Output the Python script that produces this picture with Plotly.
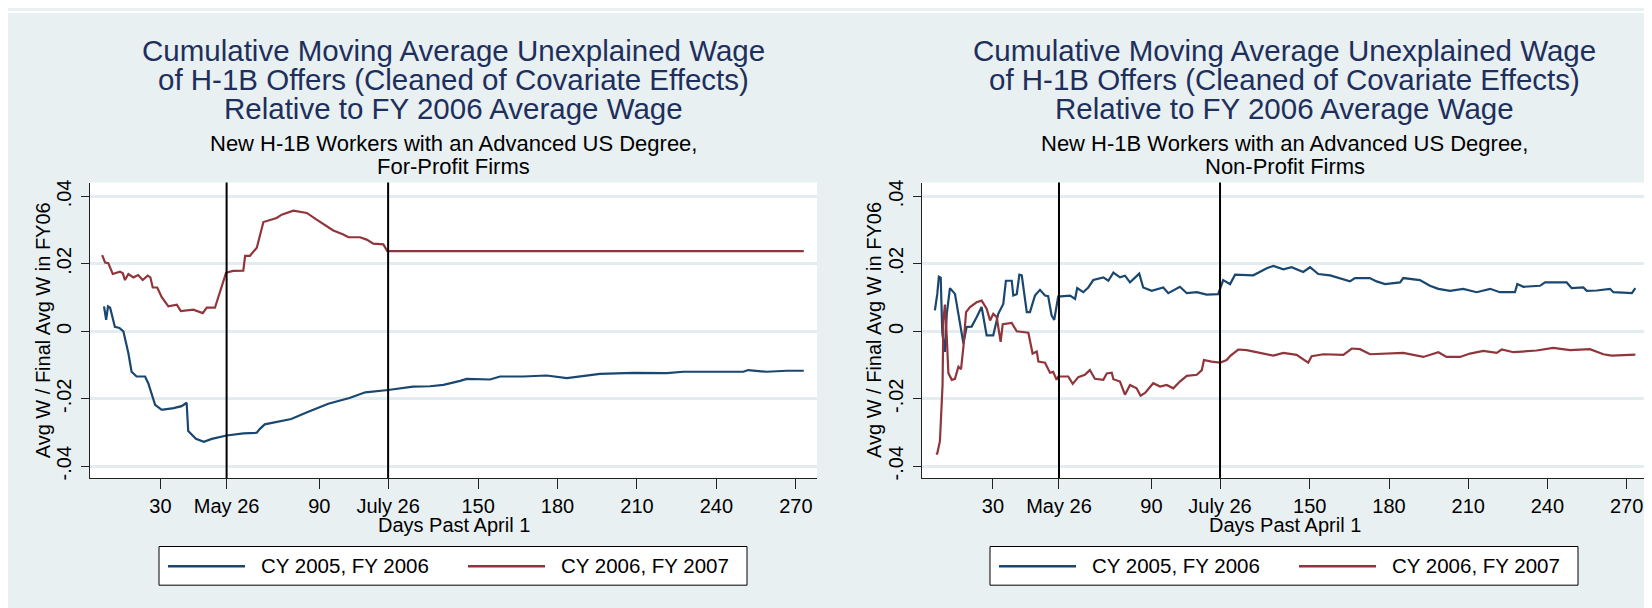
import plotly.graph_objects as go

# ---------------- data ----------------
x_tick_vals = [30, 55, 90, 116, 150, 180, 210, 240, 270]
x_tick_text = ["30", "May 26", "90", "July 26", "150", "180", "210", "240", "270"]
y_tick_vals = [-0.04, -0.02, 0, 0.02, 0.04]
y_tick_text = ["-.04", "-.02", "0", ".02", ".04"]
event_days = [55, 116]

series_names = ["CY 2005, FY 2006", "CY 2006, FY 2007"]

fp_blue_day = [8.7, 9.5, 10.2, 11, 12.8, 14.5, 16, 17.9, 19.1, 21, 24.2, 25.4, 28, 30.4, 31,
               35, 38, 39.9, 40.5, 43.4, 46.4, 49.4, 55, 61.4, 66.4, 67.5, 69.4, 74, 79.4,
               85.4, 93.4, 101.4, 107.4, 116, 120.5, 125.4, 131.8, 136.9, 143.2, 145.7,
               154.5, 158.3, 167, 175.9, 183.5, 188.5, 196, 208.6, 221.3, 227.5, 237.6,
               250.2, 252, 259, 266.6, 273]
fp_blue_val = [0.0074, 0.0034, 0.0074, 0.0070, 0.0013, 0.0010, 0.0, -0.0065, -0.0120, -0.0134,
               -0.0134, -0.0154, -0.0218, -0.0232, -0.0232, -0.0228, -0.0222, -0.0212, -0.0296,
               -0.0319, -0.0328, -0.0319, -0.0309, -0.0303, -0.0301, -0.0290, -0.0276, -0.0268,
               -0.0260, -0.0240, -0.0215, -0.0198, -0.0181, -0.0174, -0.0169, -0.0164, -0.0163,
               -0.0159, -0.0147, -0.0141, -0.0143, -0.0134, -0.0134, -0.0131, -0.0139, -0.0134,
               -0.0126, -0.0123, -0.0124, -0.0120, -0.0120, -0.0120, -0.0115, -0.0120, -0.0117,
               -0.0117]

fp_red_day = [8.0, 9.1, 10.3, 11.2, 12, 14.7, 15.8, 16.6, 17.9, 19.8, 21.6, 23.3, 25.2, 26.2,
              27.1, 28.8, 30.5, 33, 36.2, 37.7, 42.4, 46, 47.5, 50.6, 52.5, 54.8, 57.5, 61.3,
              62, 63.8, 66.4, 68.9, 73.9, 75.8, 80.2, 85.3, 89, 95.3, 99.1, 101, 105.4, 107.9,
              110.4, 114.2, 115.7, 273]
fp_red_val = [0.0226, 0.0204, 0.0202, 0.0185, 0.0170, 0.0177, 0.0172, 0.0152, 0.0170, 0.0160,
              0.0167, 0.0152, 0.0165, 0.0160, 0.0130, 0.0130, 0.0101, 0.0074, 0.0079, 0.0060,
              0.0064, 0.0054, 0.0070, 0.0070, 0.0120, 0.0174, 0.0179, 0.0180, 0.0224, 0.0224,
              0.0248, 0.0324, 0.0336, 0.0346, 0.0358, 0.0351, 0.0331, 0.0299, 0.0287, 0.0279,
              0.0279, 0.0272, 0.0260, 0.0258, 0.0238, 0.0238]

np_blue_day = [8.0, 8.9, 9.5, 10.2, 10.8, 11.8, 12.5, 13.7, 15.6, 16.9, 18.8, 20, 21.9, 23.8,
               25.7, 27.6, 30.1, 32, 33.9, 34.9, 37.1, 37.7, 39, 40, 40.9, 42.8, 44, 45.9,
               47.8, 49.7, 50.9, 52.2, 53.2, 54.7, 59.2, 61.1, 61.9, 64.2, 66.1, 68, 71.8,
               73.7, 75.6, 78.1, 80, 81.9, 85.4, 86.9, 90.1, 94.5, 96.4, 100.8, 103.4, 107.2,
               110.9, 115.3, 117.2, 119.8, 121.7, 128.6, 133.7, 136.2, 140, 143.1, 147.5,
               150.1, 153.2, 157.7, 161.4, 165.2, 167.1, 172.7, 175.3, 178.5, 184.2, 185.4,
               191.7, 195.5, 198.7, 203.1, 208.1, 213.2, 218.3, 222, 227.7, 228.6, 230.9,
               237.2, 239.1, 247.3, 249.2, 253.6, 254.9, 258.7, 263.7, 265, 272, 273.3]
np_blue_val = [0.0062, 0.0111, 0.0162, 0.0159, -0.0005, -0.0061, 0.0052, 0.0128, 0.0111,
               0.0047, -0.0036, 0.0013, 0.0014, 0.0042, 0.0072, -0.0012, -0.0012, 0.0052,
               0.0081, 0.0150, 0.0150, 0.0106, 0.0110, 0.0168, 0.0166, 0.0057, 0.0057, 0.0106,
               0.0123, 0.0106, 0.0104, 0.0047, 0.0034, 0.0103, 0.0106, 0.0096, 0.0128, 0.0116,
               0.0130, 0.0152, 0.0160, 0.0150, 0.0174, 0.0160, 0.0165, 0.0145, 0.0171, 0.0130,
               0.0120, 0.0130, 0.0113, 0.0132, 0.0113, 0.0116, 0.0109, 0.0110, 0.0152, 0.0140,
               0.0168, 0.0166, 0.0187, 0.0194, 0.0184, 0.0190, 0.0176, 0.0190, 0.0170, 0.0166,
               0.0158, 0.0148, 0.0158, 0.0158, 0.0148, 0.0140, 0.0145, 0.0158, 0.0152, 0.0135,
               0.0126, 0.0120, 0.0126, 0.0116, 0.0126, 0.0116, 0.0116, 0.0140, 0.0132, 0.0135,
               0.0145, 0.0145, 0.0128, 0.0130, 0.0120, 0.0121, 0.0126, 0.0116, 0.0113, 0.0128]

np_red_day = [8.5, 8.9, 9.9, 10.5, 10.9, 11.2, 11.8, 12.5, 13.1, 14.4, 15.6, 16.9, 17.9, 18.8,
              19.8, 21.3, 23.8, 25.7, 27.6, 28.9, 30.1, 31.4, 32.9, 33.7, 37.1, 39, 41.5,
              43.4, 45, 46.6, 47.2, 49.7, 51.6, 52.8, 54.1, 54.7, 58.5, 60.2, 62.3, 64.8,
              66.7, 68.6, 71.8, 73.1, 75, 75.6, 78.1, 80, 81.9, 84.4, 85.9, 87.6, 90.7, 93.3,
              95.8, 98.3, 100.8, 103.4, 107.2, 109.1, 109.9, 112.8, 116, 118.5, 120, 122.9,
              126.1, 132.4, 136.2, 140, 145, 149.4, 150.7, 155.1, 162.7, 165.9, 169, 172.8,
              179.1, 185.4, 193, 198.7, 201.8, 206.9, 210.7, 215.7, 220.8, 222.7, 227.1,
              235.9, 242.2, 248.6, 256.1, 261.2, 264.3, 273.3]
np_red_val = [-0.0365, -0.0362, -0.0326, -0.0242, -0.0159, 0.0032, 0.0079, -0.0017, -0.0124,
              -0.0144, -0.0141, -0.0105, -0.0112, -0.0046, 0.0057, 0.0072, 0.0086, 0.0091,
              0.0067, 0.0032, 0.0052, 0.0042, -0.0031, 0.0021, 0.0025, 0.0, -0.0002, -0.0004,
              -0.0066, -0.0060, -0.0090, -0.0093, -0.0123, -0.0120, -0.0144, -0.0134, -0.0134,
              -0.0156, -0.0136, -0.0129, -0.0115, -0.0141, -0.0144, -0.0125, -0.0123, -0.0142,
              -0.0149, -0.0188, -0.0159, -0.0169, -0.0191, -0.0183, -0.0154, -0.0164, -0.0159,
              -0.0169, -0.0149, -0.0132, -0.0129, -0.0115, -0.0085, -0.0090, -0.0093, -0.0085,
              -0.0072, -0.0054, -0.0056, -0.0066, -0.0072, -0.0064, -0.0070, -0.0093, -0.0074,
              -0.0068, -0.0070, -0.0051, -0.0053, -0.0068, -0.0066, -0.0064, -0.0076, -0.0062,
              -0.0076, -0.0076, -0.0066, -0.0058, -0.0064, -0.0054, -0.0062, -0.0057, -0.0049,
              -0.0056, -0.0053, -0.0068, -0.0072, -0.0069]

titles = ["Cumulative Moving Average Unexplained Wage",
          "of H-1B Offers (Cleaned of Covariate Effects)",
          "Relative to FY 2006 Average Wage"]
subtitles_left = ["New H-1B Workers with an Advanced US Degree,", "For-Profit Firms"]
subtitles_right = ["New H-1B Workers with an Advanced US Degree,", "Non-Profit Firms"]
y_title = "Avg W / Final Avg W in FY06"
x_title = "Days Past April 1"

# ---------------- style ----------------
# The page body has an 8px margin, so the figure is 8px smaller than the window
OFF = 8
W, H = 1652 - OFF, 608 - OFF
FONT = "Liberation Sans, Arial, sans-serif"
BG = "#e8f0f2"
GRID = "#e3ecf0"
BLUE = "#1a476f"
RED = "#90353b"
TITLE_C = "#1e2f5c"


def px(x):
    """page x pixel -> paper fraction"""
    return (x - OFF) / W


def py(y):
    """page y pixel -> paper fraction"""
    return 1 - (y - OFF) / H


fig = go.Figure()

panels = [
    dict(xa="x", ya="y", left=90, right=817, xr=[3.4, 278.0],
         blue=(fp_blue_day, fp_blue_val), red=(fp_red_day, fp_red_val),
         subs=subtitles_left, leg_left=159),
    dict(xa="x2", ya="y2", left=921.7, right=1648, xr=[3.0, 278.1],
         blue=(np_blue_day, np_blue_val), red=(np_red_day, np_red_val),
         subs=subtitles_right, leg_left=990),
]
TOP, BOT = 181, 479
yr = [(331 - BOT) / 3400, (331 - TOP) / 3400]

shapes = [
    dict(type="rect", xref="paper", yref="paper", x0=0, x1=1, y0=py(10), y1=1,
         fillcolor="white", line=dict(width=0), layer="above"),
]
annotations = []

for i, p in enumerate(panels):
    for (d, v), col, nm in [(p["blue"], BLUE, series_names[0]), (p["red"], RED, series_names[1])]:
        fig.add_trace(go.Scatter(x=d, y=v, mode="lines", name=nm, showlegend=False,
                                 line=dict(color=col, width=2.2), xaxis=p["xa"], yaxis=p["ya"]))
    sfx = "" if i == 0 else "2"
    fig.update_layout(**{
        "xaxis" + sfx: dict(domain=[px(p["left"]), px(p["right"])], range=p["xr"],
                             tickmode="array", tickvals=x_tick_vals, ticktext=x_tick_text,
                             ticks="outside", ticklen=10, tickwidth=1, tickcolor="#222",
                             showline=True, linecolor="#222", linewidth=1.2,
                             showgrid=False, zeroline=False, anchor="y" + sfx,
                             tickfont=dict(family=FONT, size=20, color="black"),
                             ticklabelstandoff=0),
        "yaxis" + sfx: dict(domain=[py(BOT), py(TOP)], range=yr,
                             tickmode="array", tickvals=y_tick_vals, ticktext=y_tick_text,
                             ticks="outside", ticklen=8, tickwidth=1, tickcolor="#222",
                             showline=True, linecolor="#222", linewidth=1.2,
                             showgrid=True, gridcolor=GRID, gridwidth=2.5, zeroline=False,
                             tickangle=-90, anchor="x" + sfx,
                             tickfont=dict(family=FONT, size=20, color="black"),
                             ticklabelstandoff=2),
    })
    for d in event_days:
        shapes.append(dict(type="line", xref=p["xa"], yref=p["ya"] + " domain", x0=d, x1=d,
                           y0=0, y1=1, line=dict(color="black", width=2)))
    cx = (p["left"] + p["right"]) / 2
    for t, yy in zip(titles, [48, 77.5, 106.5]):
        annotations.append(dict(text=t, x=px(cx), y=py(yy), xref="paper", yref="paper",
                                xanchor="center", yanchor="middle", showarrow=False,
                                font=dict(family=FONT, size=29.5, color=TITLE_C)))
    for t, yy in zip(p["subs"], [141.5, 164.5]):
        annotations.append(dict(text=t, x=px(cx), y=py(yy), xref="paper", yref="paper",
                                xanchor="center", yanchor="middle", showarrow=False,
                                font=dict(family=FONT, size=22, color="black")))
    annotations.append(dict(text=x_title, x=px(cx), y=py(526), xref="paper", yref="paper",
                            xanchor="center", yanchor="middle", showarrow=False,
                            font=dict(family=FONT, size=20, color="black")))
    annotations.append(dict(text=y_title, x=px(p["left"] - 47), y=py((TOP + BOT) / 2),
                            xref="paper", yref="paper", textangle=-90,
                            xanchor="center", yanchor="middle", showarrow=False,
                            font=dict(family=FONT, size=20, color="black")))
    L = p["leg_left"]
    shapes.append(dict(type="rect", xref="paper", yref="paper", x0=px(L), x1=px(L + 588),
                       y0=py(587), y1=py(548), fillcolor="white",
                       line=dict(color="black", width=1)))
    for k, (col, nm) in enumerate([(BLUE, series_names[0]), (RED, series_names[1])]):
        off = 9 + 300 * k
        shapes.append(dict(type="line", xref="paper", yref="paper", x0=px(L + off),
                           x1=px(L + off + 77), y0=py(568), y1=py(568),
                           line=dict(color=col, width=2.5)))
        annotations.append(dict(text=nm, x=px(L + off + 91), y=py(567.5), xref="paper",
                                yref="paper", xanchor="left", yanchor="middle",
                                showarrow=False,
                                font=dict(family=FONT, size=20.5, color="black")))

fig.update_layout(width=W, height=H, margin=dict(l=0, r=0, t=0, b=0),
                  paper_bgcolor=BG, plot_bgcolor="white", showlegend=False,
                  shapes=shapes, annotations=annotations)

fig.write_html("out.html")
